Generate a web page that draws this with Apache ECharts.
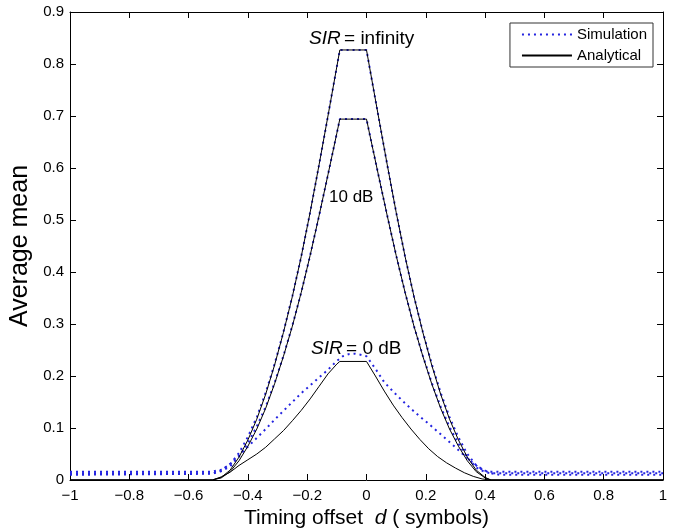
<!DOCTYPE html>
<html>
<head>
<meta charset="utf-8">
<script src="https://cdn.jsdelivr.net/npm/echarts@6/dist/echarts.min.js"></script>
<style>
  html, body { margin: 0; padding: 0; background: #fff; }
  #chart { width: 674px; height: 531px; }
</style>
</head>
<body>
<div id="chart"></div>
<script>
// x positions (timing offset d) used by the SIR = infinity and 10 dB curves
var xCurve = [-1, -0.52, -0.49, -0.46, -0.43, -0.40, -0.37, -0.34, -0.31, -0.28, -0.25, -0.22, -0.19, -0.16, -0.13, -0.10, -0.09,
  0, 0.01, 0.04, 0.07, 0.10, 0.13, 0.16, 0.19, 0.22, 0.25, 0.28, 0.31, 0.34, 0.37, 0.40, 0.42, 1];

var infAnalytical = [0, 0, 0.005, 0.019, 0.044, 0.077, 0.117, 0.165, 0.221, 0.284, 0.353, 0.430, 0.515, 0.606, 0.700, 0.795, 0.827,
  0.827, 0.795, 0.700, 0.606, 0.515, 0.430, 0.353, 0.284, 0.221, 0.165, 0.117, 0.077, 0.044, 0.019, 0.005, 0, 0];
var infSimulation = [0.016, 0.016, 0.020, 0.030, 0.052, 0.083, 0.121, 0.168, 0.223, 0.285, 0.354, 0.430, 0.515, 0.606, 0.700, 0.795, 0.827,
  0.827, 0.795, 0.700, 0.606, 0.515, 0.430, 0.353, 0.285, 0.223, 0.168, 0.121, 0.082, 0.050, 0.028, 0.018, 0.016, 0.016];

var tenAnalytical = [0, 0, 0.004, 0.016, 0.037, 0.065, 0.098, 0.138, 0.185, 0.238, 0.296, 0.361, 0.432, 0.508, 0.587, 0.667, 0.694,
  0.694, 0.667, 0.587, 0.508, 0.432, 0.361, 0.296, 0.238, 0.185, 0.138, 0.098, 0.065, 0.037, 0.016, 0.004, 0, 0];
var tenSimulation = [0.013, 0.013, 0.017, 0.026, 0.045, 0.071, 0.103, 0.141, 0.187, 0.239, 0.297, 0.361, 0.432, 0.508, 0.587, 0.667, 0.694,
  0.694, 0.667, 0.587, 0.508, 0.432, 0.361, 0.296, 0.239, 0.187, 0.141, 0.102, 0.070, 0.043, 0.024, 0.015, 0.013, 0.013];

// SIR = 0 dB
var xZeroA = [-1, -0.52, -0.49, -0.46, -0.43, -0.40, -0.37, -0.34, -0.31, -0.28, -0.25, -0.22, -0.19, -0.16, -0.13, -0.10, -0.09,
  0, 0.03, 0.06, 0.09, 0.12, 0.15, 0.18, 0.21, 0.24, 0.27, 0.30, 0.33, 0.36, 0.39, 0.42, 1];
var zeroAnalytical = [0, 0, 0.006, 0.015, 0.028, 0.039, 0.050, 0.063, 0.079, 0.095, 0.114, 0.134, 0.156, 0.180, 0.204, 0.223, 0.228,
  0.228, 0.200, 0.171, 0.144, 0.120, 0.098, 0.078, 0.060, 0.045, 0.033, 0.023, 0.014, 0.007, 0.002, 0, 0];

var xZeroS = [-1, -0.52, -0.49, -0.46, -0.43, -0.40, -0.37, -0.34, -0.31, -0.28, -0.25, -0.22, -0.19, -0.16, -0.13, -0.10,
  -0.08, -0.06, -0.04, -0.02, 0, 0.03, 0.06, 0.09, 0.12, 0.15, 0.18, 0.21, 0.24, 0.27, 0.30, 0.33, 0.36, 0.39, 0.42, 0.45, 1];
var zeroSimulation = [0.010, 0.012, 0.018, 0.031, 0.047, 0.064, 0.081, 0.098, 0.116, 0.133, 0.150, 0.167, 0.182, 0.197, 0.212, 0.229,
  0.238, 0.242, 0.243, 0.241, 0.238, 0.214, 0.188, 0.170, 0.153, 0.137, 0.122, 0.108, 0.093, 0.078, 0.063, 0.047, 0.032, 0.020, 0.013, 0.010, 0.010];

function zip(xs, ys) {
  return xs.map(function (x, i) { return [x, ys[i]]; });
}

var simStyle = { color: '#2424e0', width: 2, type: [2, 4] };
var anaStyle = { color: '#000', width: 1 };

function sim(xs, ys) {
  return { name: 'Simulation', type: 'line', data: zip(xs, ys), showSymbol: false, symbol: 'none',
    lineStyle: simStyle, itemStyle: { color: '#2424e0' }, z: 2 };
}
function ana(xs, ys) {
  return { name: 'Analytical', type: 'line', data: zip(xs, ys), showSymbol: false, symbol: 'none',
    lineStyle: anaStyle, itemStyle: { color: '#000' }, z: 3 };
}

var font = 'Liberation Sans, Arial, Helvetica, sans-serif';
var fmt = function (v) { return String(Math.round(v * 10) / 10).replace('-', '\u2212'); };
var sirRich = { i: { fontStyle: 'italic', fontSize: 19, fontFamily: font }, n: { fontSize: 19, fontFamily: font } };

var chart = echarts.init(document.getElementById('chart'));
var option = {
  animation: false,
  textStyle: { fontFamily: font },
  grid: { left: 70, right: 11, top: 12, bottom: 51, show: false, outerBoundsMode: 'none' },
  legend: {
    orient: 'vertical', right: 21, top: 23,
    data: ['Simulation', 'Analytical'],
    itemWidth: 50, itemHeight: 14, itemGap: 6,
    padding: [4, 6, 4, 11],
    itemStyle: { opacity: 0 },
    borderColor: '#333', borderWidth: 1, borderRadius: 0,
    backgroundColor: '#fff',
    textStyle: { fontSize: 15, color: '#000', fontFamily: font }
  },
  xAxis: [{
    type: 'value', min: -1, max: 1, interval: 0.2,
    name: 'Timing offset  {i|d} ( symbols)', nameLocation: 'middle', nameGap: 27,
    nameTextStyle: { fontSize: 21, color: '#000', fontFamily: font,
      rich: { i: { fontStyle: 'italic', fontSize: 21, fontFamily: font } } },
    axisLine: { onZero: false, lineStyle: { color: '#000' } },
    axisTick: { inside: true, length: 6, lineStyle: { color: '#000' } },
    axisLabel: { fontSize: 15, color: '#000', margin: 8, formatter: fmt },
    splitLine: { show: false }
  }, {
    type: 'value', min: -1, max: 1, interval: 0.2, position: 'top',
    axisLine: { onZero: false, lineStyle: { color: '#000' } },
    axisTick: { inside: true, length: 6, lineStyle: { color: '#000' } },
    axisLabel: { show: false }, splitLine: { show: false }
  }],
  yAxis: [{
    type: 'value', min: 0, max: 0.9, interval: 0.1,
    name: 'Average mean', nameLocation: 'middle', nameGap: 35, nameRotate: 90,
    nameTextStyle: { fontSize: 25, color: '#000', fontFamily: font },
    axisLine: { show: true, onZero: false, lineStyle: { color: '#000' } },
    axisTick: { show: true, inside: true, length: 6, lineStyle: { color: '#000' } },
    axisLabel: { fontSize: 15, color: '#000', margin: 6, formatter: fmt },
    splitLine: { show: false }
  }, {
    type: 'value', min: 0, max: 0.9, interval: 0.1, position: 'right',
    axisLine: { show: true, onZero: false, lineStyle: { color: '#000' } },
    axisTick: { show: true, inside: true, length: 6, lineStyle: { color: '#000' } },
    axisLabel: { show: false }, splitLine: { show: false }
  }],
  graphic: [
    { type: 'text', left: 309, top: 29, z: 10, style: { rich: sirRich, text: '{i|SIR} {n|= infinity}', fill: '#000' } },
    { type: 'text', left: 329, top: 189, z: 10, style: { text: '10 dB', fontSize: 17, fontFamily: font, fill: '#000' } },
    { type: 'text', left: 311, top: 339, z: 10, style: { rich: sirRich, text: '{i|SIR} {n|= 0 dB}', fill: '#000' } }
  ],
  series: [
    sim(xCurve, infSimulation),
    sim(xCurve, tenSimulation),
    sim(xZeroS, zeroSimulation),
    ana(xCurve, infAnalytical),
    ana(xCurve, tenAnalytical),
    ana(xZeroA, zeroAnalytical)
  ]
};
chart.setOption(option);
</script>
</body>
</html>
